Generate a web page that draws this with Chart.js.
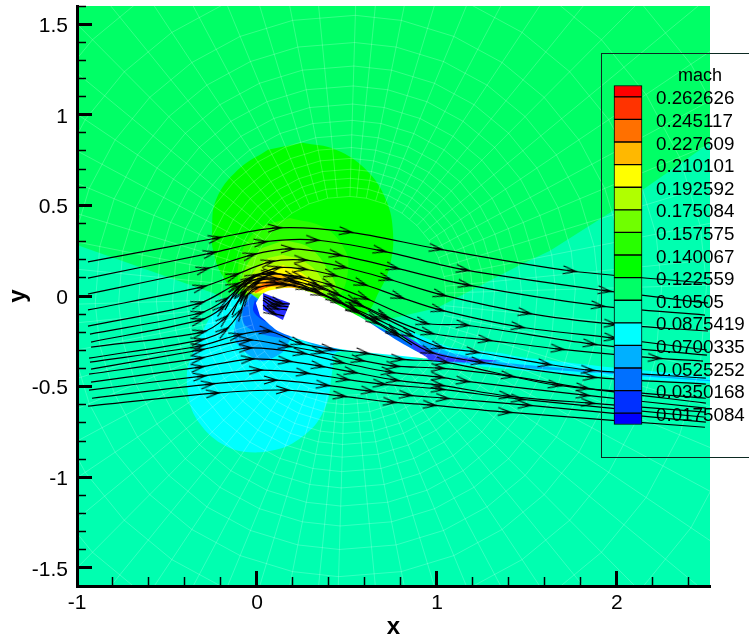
<!DOCTYPE html>
<html>
<head>
<meta charset="utf-8">
<title>mach</title>
<script src="https://cdn.jsdelivr.net/npm/chart.js@4"></script>
<style>
  html, body { margin: 0; padding: 0; background: #fff; width: 749px; height: 644px; overflow: hidden; }
  #plot { position: absolute; left: 0; top: 0; }
  #colorbar { position: absolute; left: 612px; top: 83px; }
  #legend-box { position: absolute; left: 601px; top: 53px; width: 170px; height: 403px; border: 1px solid #0c2a22; }
  #legend-title { position: absolute; left: 678px; top: 65px; font: 18px "Liberation Sans", Arial, sans-serif; color: #000; }
</style>
</head>
<body>
<canvas id="plot" width="749" height="644"></canvas>
<div id="legend-box"></div>
<div id="legend-title">mach</div>
<canvas id="colorbar" width="137" height="344"></canvas>
<script>
// Axis ranges and ticks
const xRange = [-1, 2.517];
const yRange = [-1.6, 1.6];
const yLabelRange = [-1.589, 1.611]; // tick labels sit about 2px under their tick
const xMajorTicks = [-1, 0, 1, 2];
const xMinorTicks = [-0.8, -0.6, -0.4, -0.2, 0.2, 0.4, 0.6, 0.8, 1.2, 1.4, 1.6, 1.8, 2.2, 2.4];
const yMajorTicks = [-1.5, -1, -0.5, 0, 0.5, 1, 1.5];
const yMinorTicks = [-1.6, -1.4, -1.3, -1.2, -1.1, -0.9, -0.8, -0.7, -0.6, -0.4, -0.3, -0.2, -0.1,
  0.1, 0.2, 0.3, 0.4, 0.6, 0.7, 0.8, 0.9, 1.1, 1.2, 1.3, 1.4, 1.6];

// Contour levels, bottom to top, and the colour of each band
const machLevels = [0.0175084, 0.0350168, 0.0525252, 0.0700335, 0.0875419, 0.10505, 0.122559,
  0.140067, 0.157575, 0.175084, 0.192592, 0.210101, 0.227609, 0.245117, 0.262626];
const machRange = [0.00875, 0.2714];
const machLabelRange = [0.01065, 0.2733]; // same idea for the colour bar labels
const bandColors = ["#0000ff", "#0030ff", "#0070ff", "#00b0ff", "#00ffff", "#00ffb0", "#00ff66", "#00ff00",
  "#28ff00", "#70ff00", "#b0ff00", "#ffff00", "#ffb800", "#ff7000", "#ff3300", "#ff0000"];

// Contour regions, x/y in plot units
const upperField = [[-1, -1.6], [2.517, -1.6], [2.517, 1.6], [-1, 1.6]];
const lowerField = [[-1, 0.282], [-0.244, 0.017], [0.24, -0.24], [1.0, -0.066], [1.461, 0.171], [1.628, 0.249],
  [1.961, 0.459], [2.517, 0.845], [2.517, -1.6], [-1, -1.6]];
const greenDome = [[0.25, 0.845], [0.439, 0.807], [0.606, 0.696], [0.717, 0.53], [0.756, 0.348], [0.739, 0.171], [0.683, 0.033],
  [0.583, -0.105], [0.239, -0.077], [-0.094, 0.006], [-0.194, 0.116], [-0.244, 0.254], [-0.25, 0.348], [-0.228, 0.53], [-0.106, 0.696], [0.061, 0.807]];
const band157 = [[0.183, 0.431], [0.378, 0.376], [0.489, 0.254], [0.506, 0.144], [0.461, 0.006], [0.35, -0.077],
  [0.072, -0.05], [-0.067, 0.006], [-0.106, 0.144], [-0.05, 0.309], [0.044, 0.392]];
const band175 = [[0.156, 0.309], [0.294, 0.265], [0.394, 0.144], [0.433, 0.033], [0.294, -0.022], [0.017, -0.011],
  [-0.083, 0.033], [-0.056, 0.171], [0.028, 0.265]];
const band192 = [[0.144, 0.227], [0.267, 0.188], [0.361, 0.088], [0.35, 0.006], [0.072, 0.006], [-0.067, 0.033],
  [-0.011, 0.144], [0.061, 0.21]];
const band210 = [[0.144, 0.171], [0.239, 0.133], [0.306, 0.061], [0.183, 0.033], [0.028, 0.017], [-0.05, 0.033],
  [0.006, 0.116], [0.072, 0.155]];
const band227 = [[0.128, 0.127], [0.211, 0.099], [0.239, 0.05], [0.072, 0.05], [-0.028, 0.022], [0.006, 0.088]];
const band245 = [[0.1, 0.088], [0.156, 0.066], [0.061, 0.05], [-0.011, 0.017], [0.028, 0.066]];
const cyanLobe = [[-0.133, 0.017], [-0.244, -0.094], [-0.333, -0.26], [-0.389, -0.425], [-0.361, -0.63], [-0.261, -0.768], [-0.133, -0.845],
  [0.017, -0.862], [0.178, -0.823], [0.322, -0.713], [0.394, -0.575], [0.417, -0.425], [0.45, -0.309], [0.906, -0.354], [0.517, -0.243], [0.017, -0.022]];
const blueLobe = [[-0.039, 0.017], [-0.106, -0.105], [-0.122, -0.243], [0.017, -0.359], [0.144, -0.309], [0.2, -0.232],
  [0.406, -0.309], [0.461, -0.298], [0.183, -0.16], [0.017, -0.022]];
const deepLobe = [[-0.028, 0.006], [-0.078, -0.077], [-0.067, -0.16], [0.044, -0.215], [0.183, -0.227], [0.072, -0.122], [0.006, -0.022]];
const deepestLobe = [[-0.011, -0.02], [-0.022, -0.077], [0.006, -0.115], [0.05, -0.14], [0.022, -0.085]];
const upperStrip = [[0.517, -0.094], [0.794, -0.227], [0.933, -0.326], [0.767, -0.254], [0.517, -0.11]];
const wakeCyan = [[0.833, -0.188], [1.072, -0.282], [1.35, -0.315], [1.461, -0.337], [1.906, -0.387], [2.517, -0.448],
  [2.517, -0.481], [1.906, -0.442], [1.461, -0.409], [1.35, -0.398], [0.978, -0.365]];
const wakeBlue = [[0.878, -0.227], [1.072, -0.31], [1.35, -0.365], [1.906, -0.414], [2.517, -0.464],
  [2.517, -0.47], [1.906, -0.425], [1.35, -0.387], [0.989, -0.359]];
const wakeDeep = [[0.794, -0.199], [0.961, -0.298], [1.1, -0.337], [1.35, -0.359], [1.183, -0.365], [0.961, -0.354], [0.878, -0.298]];
const airfoil = [[-0.006, -0.039], [0.028, 0.011], [0.083, 0.033], [0.2, 0.044], [0.35, 0], [0.572, -0.116], [0.794, -0.254],
  [0.95, -0.343], [0.922, -0.343], [0.5, -0.298], [0.35, -0.271], [0.128, -0.199], [0.017, -0.11]];
const innerPatch = [[0.033, 0.017], [0.183, -0.039], [0.144, -0.133], [0.033, -0.077]];

// Mesh: rings and spokes around the airfoil
const meshCenter = [0.5, 0];
const meshRadii = [0.55, 0.6, 0.65, 0.7, 0.76, 0.82, 0.89, 0.97, 1.06, 1.16, 1.27, 1.4, 1.55, 1.75, 2.0, 2.3, 2.7, 3.1];
const meshDirs = [[0.999, 0.03], [0.981, 0.195], [0.924, 0.383], [0.831, 0.556], [0.707, 0.707], [0.556, 0.831], [0.383, 0.924], [0.195, 0.981],
  [0.03, 0.999], [-0.195, 0.981], [-0.383, 0.924], [-0.556, 0.831], [-0.707, 0.707], [-0.831, 0.556], [-0.924, 0.383], [-0.981, 0.195],
  [-0.999, -0.03], [-0.981, -0.195], [-0.924, -0.383], [-0.831, -0.556], [-0.707, -0.707], [-0.556, -0.831], [-0.383, -0.924], [-0.195, -0.981],
  [-0.03, -0.999], [0.195, -0.981], [0.383, -0.924], [0.556, -0.831], [0.707, -0.707], [0.831, -0.556], [0.924, -0.383], [0.981, -0.195]];
const meshDirsFine = [[0.995, 0.098], [0.957, 0.29], [0.882, 0.471], [0.773, 0.634], [0.634, 0.773], [0.471, 0.882], [0.29, 0.957], [0.098, 0.995],
  [-0.098, 0.995], [-0.29, 0.957], [-0.471, 0.882], [-0.634, 0.773], [-0.773, 0.634], [-0.882, 0.471], [-0.957, 0.29], [-0.995, 0.098],
  [-0.995, -0.098], [-0.957, -0.29], [-0.882, -0.471], [-0.773, -0.634], [-0.634, -0.773], [-0.471, -0.882], [-0.29, -0.957], [-0.098, -0.995],
  [0.098, -0.995], [0.29, -0.957], [0.471, -0.882], [0.634, -0.773], [0.773, -0.634], [0.882, -0.471], [0.957, -0.29], [0.995, -0.098]];

// Streamlines, every inner vertex carries an arrow
const stream1 = [[-0.939, 0.188], [-0.222, 0.32], [0.111, 0.376], [0.506, 0.354], [1.006, 0.26], [1.75, 0.138], [2.489, 0.072]];
const stream2 = [[-0.939, 0.099], [-0.25, 0.238], [0.033, 0.298], [0.322, 0.309], [0.694, 0.249], [1.156, 0.144], [1.944, 0.028], [2.506, -0.039]];
const stream3 = [[-0.939, 0.011], [-0.289, 0.149], [-0.028, 0.227], [0.183, 0.26], [0.45, 0.227], [0.767, 0.155], [1.167, 0.061], [1.906, -0.055], [2.489, -0.105]];
const stream4 = [[-0.939, -0.077], [-0.306, 0.05], [-0.122, 0.116], [0.072, 0.188], [0.256, 0.199], [0.478, 0.16], [0.728, 0.094], [1.028, 0.006], [1.5, -0.094], [1.978, -0.155], [2.506, -0.193]];
const stream5 = [[-0.939, -0.166], [-0.317, -0.039], [-0.122, 0.061], [0.111, 0.155], [0.256, 0.149], [0.422, 0.116], [0.589, 0.066], [0.794, -0.006], [1.017, -0.077], [1.461, -0.171], [1.978, -0.232], [2.5, -0.298]];
const stream6 = [[-0.928, -0.21], [-0.317, -0.094], [-0.178, -0.022], [-0.039, 0.094], [0.072, 0.122], [0.239, 0.105], [0.406, 0.061], [0.6, -0.011], [0.933, -0.149], [1.156, -0.16], [1.861, -0.265], [2.5, -0.326]];
const stream7 = [[-0.922, -0.254], [-0.317, -0.133], [-0.194, -0.066], [-0.067, 0.061], [0.028, 0.099], [0.183, 0.088], [0.35, 0.044], [0.544, -0.033], [0.711, -0.111], [0.961, -0.204], [1.278, -0.243], [1.683, -0.293], [2.222, -0.343], [2.478, -0.359]];
const stream8 = [[-0.922, -0.282], [-0.306, -0.199], [-0.178, -0.122], [-0.078, 0.006], [-0.011, 0.066], [0.1, 0.072], [0.267, 0.044], [0.461, -0.033], [0.656, -0.122], [0.85, -0.215], [1.017, -0.282], [1.211, -0.309], [1.611, -0.376], [1.85, -0.409], [2.494, -0.453]];
const stream9 = [[-0.933, -0.343], [-0.317, -0.243], [-0.178, -0.188], [-0.094, -0.088], [-0.061, -0.006], [-0.006, 0.044], [0.156, 0.061], [0.35, 0.011], [0.544, -0.077], [0.767, -0.199], [0.961, -0.309], [1.239, -0.365], [1.861, -0.448], [2.494, -0.486]];
const stream10 = [[-0.928, -0.365], [-0.317, -0.276], [-0.106, -0.215], [0.061, -0.193], [0.239, -0.26], [0.406, -0.293], [0.6, -0.315], [0.794, -0.348], [1.044, -0.365], [1.667, -0.492], [2.494, -0.564]];
const stream11 = [[-0.922, -0.403], [-0.317, -0.298], [-0.05, -0.243], [0.167, -0.276], [0.35, -0.309], [0.572, -0.354], [0.767, -0.387], [1.017, -0.398], [1.406, -0.442], [1.822, -0.508], [2.494, -0.591]];
const stream12 = [[-0.933, -0.431], [-0.317, -0.343], [-0.05, -0.287], [0.25, -0.315], [0.461, -0.365], [0.739, -0.42], [1.017, -0.448], [1.156, -0.47], [1.822, -0.547], [2.494, -0.619]];
const stream13 = [[-0.922, -0.475], [-0.317, -0.392], [-0.039, -0.348], [0.167, -0.359], [0.35, -0.387], [0.533, -0.42], [0.767, -0.464], [1.017, -0.492], [1.394, -0.552], [1.85, -0.591], [2.494, -0.641]];
const stream14 = [[-0.933, -0.519], [-0.306, -0.442], [0.006, -0.409], [0.267, -0.425], [0.489, -0.459], [0.694, -0.486], [1.017, -0.514], [1.461, -0.569], [2.494, -0.669]];
const stream15 = [[-0.917, -0.564], [-0.261, -0.486], [0.089, -0.464], [0.378, -0.492], [0.628, -0.525], [0.839, -0.547], [1.044, -0.564], [1.5, -0.602], [2.494, -0.696]];
const stream16 = [[-0.939, -0.608], [-0.233, -0.536], [0.156, -0.519], [0.472, -0.552], [0.75, -0.586], [0.972, -0.602], [1.389, -0.641], [2.489, -0.724]];
const topA = [[-0.139, -0.105], [-0.078, 0.017], [0.006, 0.083], [0.1, 0.094], [0.211, 0.072], [0.322, 0.033], [0.433, -0.022], [0.544, -0.083], [0.656, -0.144], [0.767, -0.21], [0.861, -0.271]];
const topB = [[-0.178, -0.077], [-0.106, 0.044], [-0.017, 0.11], [0.083, 0.127], [0.2, 0.105], [0.322, 0.066], [0.444, 0.011], [0.572, -0.05], [0.711, -0.122], [0.878, -0.204]];
const inner1 = [[0.039, 0], [0.128, -0.039], [0.183, -0.044]];
const inner2 = [[0.033, -0.022], [0.1, -0.066], [0.167, -0.077]];
const inner3 = [[0.033, -0.05], [0.089, -0.094], [0.15, -0.11]];
const inner4 = [[0.036, -0.011], [0.11, -0.05], [0.175, -0.06]];
const streamlines = [stream1, stream2, stream3, stream4, stream5, stream6, stream7, stream8, stream9,
  stream10, stream11, stream12, stream13, stream14, stream15, stream16, topA, topB, inner1, inner2, inner3, inner4];

// Open arrow head used as the point style
function makeArrow() {
  const c = document.createElement("canvas");
  c.width = 24;
  c.height = 24;
  const g = c.getContext("2d");
  g.strokeStyle = "#000";
  g.lineWidth = 1.2;
  g.beginPath();
  g.moveTo(3, 8);
  g.lineTo(16, 12);
  g.lineTo(3, 16);
  g.moveTo(7, 12);
  g.lineTo(16, 12);
  g.stroke();
  return c;
}
const arrowHead = makeArrow();

function toPoints(list) {
  return list.map(p => ({ x: p[0], y: p[1] }));
}

function shape(list, color, tension) {
  return {
    data: toPoints(list), showLine: true, fill: "shape", backgroundColor: color,
    borderWidth: 0, pointRadius: 0, tension: tension
  };
}

function meshLine(list) {
  return {
    data: toPoints(list), showLine: true, fill: false, borderColor: "rgba(255,255,255,0.3)",
    borderWidth: 0.7, pointRadius: 0, tension: 0
  };
}

function arrowAngle(ctx) {
  const d = ctx.dataset.data;
  const i = ctx.dataIndex;
  const a = d[Math.max(i - 1, 0)];
  const b = d[Math.min(i + 1, d.length - 1)];
  return Math.atan2(a.y - b.y, b.x - a.x) * 180 / Math.PI;
}

function streamLine(list) {
  return {
    data: toPoints(list), showLine: true, fill: false, borderColor: "#000", borderWidth: 1.2, tension: 0.3,
    pointStyle: arrowHead, pointRotation: arrowAngle,
    pointRadius: ctx => (ctx.dataIndex === 0 || ctx.dataIndex === ctx.dataset.data.length - 1) ? 0 : 6
  };
}

const layers = [
  shape(upperField, bandColors[6], 0),
  shape(lowerField, bandColors[5], 0),
  shape(greenDome, bandColors[7], 0.4),
  shape(band157, bandColors[8], 0.4),
  shape(band175, bandColors[9], 0.4),
  shape(band192, bandColors[10], 0.4),
  shape(band210, bandColors[11], 0.4),
  shape(band227, bandColors[12], 0.4),
  shape(band245, bandColors[13], 0.4),
  shape(cyanLobe, bandColors[4], 0.3),
  shape(blueLobe, bandColors[3], 0.3),
  shape(deepLobe, bandColors[2], 0.3),
  shape(deepestLobe, bandColors[1], 0.3),
  shape(upperStrip, bandColors[2], 0),
  shape(wakeCyan, bandColors[4], 0.2),
  shape(wakeBlue, bandColors[3], 0.2),
  shape(wakeDeep, "#3040ff", 0.2)
];
meshRadii.forEach(r => {
  const ring = meshDirs.map(d => [meshCenter[0] + r * d[0], meshCenter[1] + r * d[1]]);
  ring.push(ring[0]);
  layers.push(meshLine(ring));
});
meshDirs.concat(meshDirsFine).forEach(d => {
  layers.push(meshLine([
    [meshCenter[0] + meshRadii[0] * d[0], meshCenter[1] + meshRadii[0] * d[1]],
    [meshCenter[0] + 3.2 * d[0], meshCenter[1] + 3.2 * d[1]]
  ]));
});
layers.push(shape(airfoil, "#ffffff", 0.3));
layers.push(shape(innerPatch, "#2a30ff", 0));
streamlines.forEach(s => layers.push(streamLine(s)));
// later entries paint on top
layers.forEach((d, i) => { d.order = layers.length - i; });

const tickFont = { family: "'Liberation Sans', Arial, sans-serif", size: 21 };
const titleFont = { family: "'Liberation Sans', Arial, sans-serif", size: 24, weight: "bold" };

function setTicks(values) {
  return scale => { scale.ticks = values.map(v => ({ value: v })); };
}

// afterFit: fixed axis size, no extra room for the first and last labels
function fixSize(prop, size) {
  return s => {
    s[prop] = size;
    s.paddingTop = 0;
    s.paddingBottom = 0;
    s.paddingLeft = 0;
    s.paddingRight = 0;
  };
}

// tick marks only, drawn inward over the plot
function markAxis(position, range, values, fit, length, width, weight, border) {
  return {
    type: "linear", position: position, min: range[0], max: range[1], weight: weight,
    afterBuildTicks: setTicks(values), afterFit: fit,
    ticks: { display: false },
    border: { display: border, color: "#000", width: 3, z: 2 },
    grid: { drawOnChartArea: false, drawTicks: true, tickLength: -length, tickWidth: width, tickColor: "#000", z: 2 }
  };
}

new Chart(document.getElementById("plot"), {
  type: "scatter",
  data: { datasets: layers },
  options: {
    responsive: false,
    animation: false,
    events: [],
    layout: { padding: { top: 6, right: 39, left: 0, bottom: 0 } },
    plugins: { legend: { display: false }, tooltip: { enabled: false } },
    scales: {
      x: {
        type: "linear", position: "bottom", min: xRange[0], max: xRange[1], weight: 1,
        afterBuildTicks: setTicks(xMajorTicks),
        afterFit: fixSize("height", 58),
        ticks: { color: "#000", font: tickFont, padding: 20, autoSkip: false, maxRotation: 0, callback: v => String(v), z: 2 },
        border: { display: true, color: "#000", width: 3, z: 2 },
        grid: { drawOnChartArea: false, drawTicks: true, tickLength: -15, tickWidth: 3, tickColor: "#000", z: 2 },
        title: { display: true, text: "x", color: "#000", font: titleFont, padding: { top: 0, bottom: 2 } }
      },
      y: {
        type: "linear", position: "left", min: yRange[0], max: yRange[1], weight: 1,
        afterBuildTicks: setTicks(yMajorTicks), afterFit: fixSize("width", 0),
        ticks: { display: false },
        border: { display: true, color: "#000", width: 3, z: 2 },
        grid: { drawOnChartArea: false, drawTicks: true, tickLength: -15, tickWidth: 3, tickColor: "#000", z: 2 }
      },
      yLabels: {
        type: "linear", position: "left", min: yLabelRange[0], max: yLabelRange[1], weight: 2,
        afterBuildTicks: setTicks(yMajorTicks),
        afterFit: fixSize("width", 77),
        ticks: { color: "#000", font: tickFont, padding: 9, autoSkip: false, maxRotation: 0, callback: v => String(v), z: 2 },
        border: { display: false },
        grid: { display: false, drawTicks: false },
        title: { display: true, text: "y", color: "#000", font: titleFont, padding: { top: 4, bottom: 0 } }
      },
      xMinor: markAxis("bottom", xRange, xMinorTicks, fixSize("height", 0), 9, 1.5, 0, false),
      yMinor: markAxis("left", yRange, yMinorTicks, fixSize("width", 0), 9, 1.5, 0, false)
    }
  }
});

// Colour bar: one floating bar per band, level values as axis ticks
const bandEdges = [machRange[0], ...machLevels, machRange[1]];
new Chart(document.getElementById("colorbar"), {
  type: "bar",
  data: {
    labels: ["mach"],
    datasets: bandColors.map((color, i) => ({
      data: [[bandEdges[i], bandEdges[i + 1]]],
      backgroundColor: color,
      borderColor: "#000",
      borderWidth: 1,
      borderSkipped: false,
      barPercentage: 1,
      categoryPercentage: 1,
      grouped: false,
      clip: false
    }))
  },
  options: {
    responsive: false,
    animation: false,
    events: [],
    layout: { padding: { top: 2.5, bottom: 2.5, left: 2, right: 0 } },
    plugins: { legend: { display: false }, tooltip: { enabled: false } },
    scales: {
      x: { display: false },
      y: {
        position: "right", min: machRange[0], max: machRange[1], display: true,
        afterFit: fixSize("width", 0),
        border: { display: false },
        grid: { display: false, drawTicks: false },
        ticks: { display: false }
      },
      levels: {
        type: "linear", position: "right", min: machLabelRange[0], max: machLabelRange[1],
        afterBuildTicks: setTicks(machLevels),
        afterFit: fixSize("width", 107),
        border: { display: false },
        grid: { display: false, drawTicks: false },
        ticks: {
          color: "#000", padding: 14, autoSkip: false, callback: v => String(v),
          font: { family: "'Liberation Sans', Arial, sans-serif", size: 18.8 }
        }
      }
    }
  }
});
</script>
</body>
</html>
